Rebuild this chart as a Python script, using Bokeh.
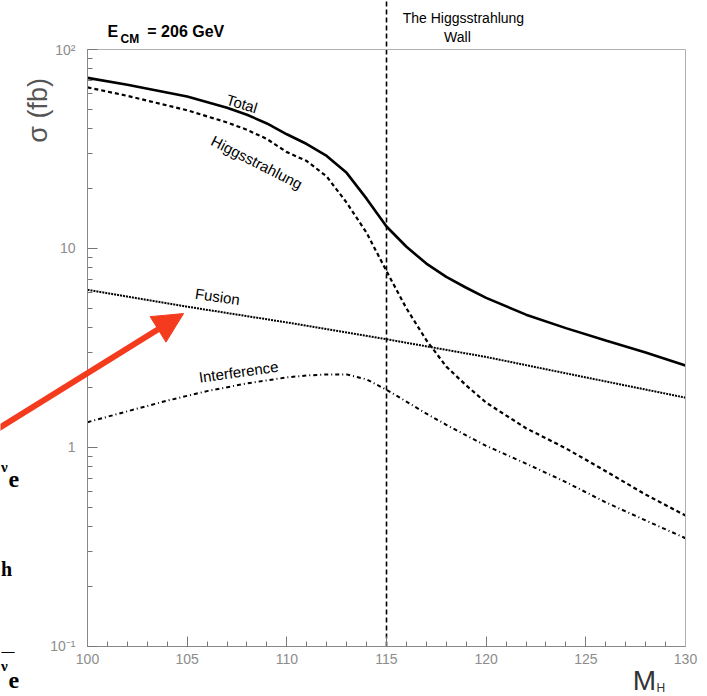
import math
from bokeh.plotting import figure
from bokeh.models import Label, Arrow, NormalHead, FixedTicker, LinearAxis, LogAxis
from bokeh.embed import file_html
from bokeh.resources import INLINE

# ---------------- data ----------------
mass_total = [100, 102, 105, 107, 108, 109, 110, 111, 112, 113, 114, 115, 116, 117, 118, 119, 120, 122, 124, 126, 128, 130]
sigma_total = [72, 66.5, 58, 51, 47, 42.5, 37.5, 33.5, 29.2, 24, 17.8, 12.9, 10.2, 8.4, 7.2, 6.35, 5.65, 4.65, 3.98, 3.45, 3.0, 2.58]

mass_hs = [100, 102, 105, 107, 108, 109, 110, 111, 112, 113, 114, 115, 116, 117, 118, 119, 120, 122, 124, 126, 128, 130]
sigma_hs = [64.5, 58.5, 49.5, 43, 39.5, 35.5, 30.5, 27.5, 23, 17, 12.0, 7.7, 5.0, 3.46, 2.55, 2.05, 1.68, 1.25, 0.99, 0.76, 0.58, 0.455]

mass_fusion = [100, 105, 110, 115, 120, 125, 130]
sigma_fusion = [6.2, 5.1, 4.25, 3.5, 2.85, 2.25, 1.78]

mass_int = [100, 102, 104, 106, 108, 110, 111, 112, 113, 114, 115, 116, 117, 118, 119, 120, 122, 124, 126, 128, 130]
sigma_int = [1.34, 1.52, 1.72, 1.92, 2.1, 2.25, 2.3, 2.33, 2.33, 2.2, 1.95, 1.7, 1.48, 1.3, 1.15, 1.02, 0.83, 0.67, 0.53, 0.43, 0.35]

wall_mass = 115
x_min, x_max = 100, 130
y_min, y_max = 0.1, 100
x_ticks = [100, 105, 110, 115, 120, 125, 130]
y_ticks = [0.1, 1, 10, 100]
y_tick_labels = {0.1: "10\u207b\u00b9", 1: "1", 10: "10", 100: "10\u00b2"}

FONT = "Liberation Sans"
SERIF = "Liberation Serif"
GRAY = "#8c8c8c"
FRAME_GRAY = "#b0b0b0"

# the frame covers the whole canvas; the axes sit at fixed data locations
X_VIEW = (95.635, 131.104)
Y_VIEW = (0.05606, 176.3)
p = figure(width=707, height=696,
           x_range=X_VIEW, y_range=Y_VIEW, y_axis_type="log",
           x_axis_location=None, y_axis_location=None,
           output_backend="svg", toolbar_location=None,
           min_border=0, min_border_left=0, min_border_right=0,
           min_border_top=0, min_border_bottom=0)
p.background_fill_color = "white"
p.border_fill_color = "white"
p.outline_line_color = None
p.grid.visible = False

def style_axis(ax):
    ax.axis_line_color = "#888888"
    ax.axis_line_width = 1
    ax.major_tick_line_color = "#777777"
    ax.minor_tick_line_color = "#777777"
    ax.major_tick_in = 10
    ax.major_tick_out = 0
    ax.minor_tick_in = 5
    ax.minor_tick_out = 0
    ax.major_label_text_font = FONT
    ax.major_label_text_font_size = "14px"
    ax.major_label_text_color = GRAY

xaxis = LinearAxis(fixed_location=y_min, bounds=(x_min, x_max),
                   ticker=FixedTicker(ticks=x_ticks, minor_ticks=list(range(x_min, x_max + 1))))
style_axis(xaxis)
xaxis.major_label_standoff = 8
p.add_layout(xaxis, "below")

minor_y = [m * 10.0 ** e for e in (-1, 0, 1) for m in range(2, 10)]
yaxis = LogAxis(fixed_location=x_min, bounds=(y_min, y_max),
                ticker=FixedTicker(ticks=y_ticks, minor_ticks=minor_y))
style_axis(yaxis)
yaxis.major_label_overrides = y_tick_labels
yaxis.major_label_standoff = 12
p.add_layout(yaxis, "left")

# thin frame lines on top and right
top_axis = LinearAxis(fixed_location=y_max, bounds=(x_min, x_max), ticker=FixedTicker(ticks=[]))
right_axis = LogAxis(fixed_location=x_max, bounds=(y_min, y_max), ticker=FixedTicker(ticks=[]))
for ax in (top_axis, right_axis):
    ax.axis_line_color = FRAME_GRAY
    ax.major_tick_line_color = None
    ax.minor_tick_line_color = None
    ax.major_label_text_color = None
p.add_layout(top_axis, "above")
p.add_layout(right_axis, "right")

# curves
p.line(mass_total, sigma_total, line_color="black", line_width=2.6)
p.line(mass_hs, sigma_hs, line_color="black", line_width=2.2, line_dash="4 3")
p.line(mass_fusion, sigma_fusion, line_color="black", line_width=2.0, line_dash="2 1")
p.line(mass_int, sigma_int, line_color="black", line_width=2.0, line_dash="4 3 1 3")

# Higgsstrahlung wall (extends above the frame box)
p.segment(x0=[wall_mass], y0=[y_min], x1=[wall_mass], y1=[Y_VIEW[1]],
          line_color="black", line_width=1.6, line_dash="5 3")

def lab(text, x, y, ang, size="15px", style="normal", color="black", align="center", font=FONT):
    p.add_layout(Label(x=x, y=y, text=text, angle=math.radians(ang),
                       text_font=font, text_font_size=size, text_font_style=style,
                       text_color=color, text_align=align, text_baseline="middle"))

# curve labels
lab("Total", 107.75, 53.5, -17)
lab("Higgsstrahlung", 108.5, 27.1, -27)
lab("Fusion", 106.52, 5.74, -8)
lab("Interference", 107.58, 2.4, 8)

# header texts
lab("E", 101.0, 123.2, 0, size="16px", style="bold", align="left")
lab("CM", 101.66, 113.0, 0, size="12px", style="bold", align="left")
lab("= 206 GeV", 103.0, 123.2, 0, size="16px", style="bold", align="left")
lab("The Higgsstrahlung", 118.86, 144.8, 0, size="14px")
lab("Wall", 118.56, 116.2, 0, size="14px")

# axis titles
lab("\u03c3 (fb)", 97.54, 49.4, 90, size="27px", color="#555555")
lab("M", 127.94, 0.0675, 0, size="28px", color="#333333")
lab("H", 128.55, 0.0615, 0, size="12px", color="#333333", align="left")

# slide fragments at the far left edge (kept fully inside the canvas)
lab("\u03bd", 95.66, 0.80, 0, size="15px", style="bold", align="left", font=SERIF)
lab("e", 96.04, 0.69, 0, size="24px", style="bold", align="left", font=SERIF)
lab("h", 95.66, 0.244, 0, size="20px", style="bold", align="left", font=SERIF)
lab("\u2014", 95.69, 0.0955, 0, size="13px", style="bold", align="left", font=SERIF)
lab("\u03bd", 95.66, 0.080, 0, size="15px", style="bold", align="left", font=SERIF)
lab("e", 96.04, 0.0675, 0, size="24px", style="bold", align="left", font=SERIF)

# red arrow
p.add_layout(Arrow(x_start=95.28, y_start=1.203, x_end=104.82, y_end=4.71,
                   line_color="#f43b1e", line_width=6,
                   end=NormalHead(size=30, fill_color="#f43b1e", line_color="#f43b1e")))

open("out.html", "w").write(file_html(p, INLINE))
